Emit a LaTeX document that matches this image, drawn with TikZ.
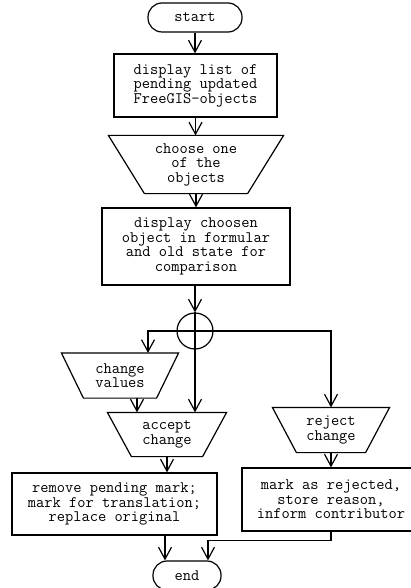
\documentclass[tikz,border=0pt]{standalone}
\usepackage{fontspec}
\usetikzlibrary{arrows.meta}
\begin{document}
\begin{tikzpicture}[x=1pt,y=-1pt,line width=1.2pt,
  txt/.style={font=\ttfamily\fontsize{16}{14.5}\selectfont, align=center, inner sep=0pt},
  procbox/.style={txt, draw, rectangle},
  term/.style={txt, draw, rounded corners=14pt},
  arr/.style={-{Straight Barb[length=12pt,width=13pt]}}]
\useasboundingbox (0,0) rectangle (411,588);
\newcommand\trapz[2]{\draw (#1.north west) -- (#1.north east) -- ([xshift=-#2pt]#1.south east) -- ([xshift=#2pt]#1.south west) -- cycle;}
% nodes
\node[term, minimum width=94pt, minimum height=29pt] (st) at (195,17.5) {start};
\node[procbox, minimum width=163pt, minimum height=63pt] (b1) at (195.5,85.5) {display list of\\pending updated\\FreeGIS-objects};
\node[txt, minimum width=174pt, minimum height=57pt] (ch) at (196,164.5) {choose one\\of the\\objects};
\trapz{ch}{36}
\node[procbox, minimum width=188pt, minimum height=77pt] (b2) at (196,246.5) {display choosen\\object in formular\\and old state for\\comparison};
\node[draw, circle, minimum size=36pt, inner sep=0pt] (j) at (195,331) {};
\node[txt, minimum width=116pt, minimum height=44pt] (cv) at (120,375.5) {change\\values};
\trapz{cv}{22}
\node[txt, minimum width=118pt, minimum height=43pt] (acc) at (167,434.5) {accept\\change};
\trapz{acc}{24}
\node[txt, minimum width=116pt, minimum height=44pt] (rej) at (331,430) {reject\\change};
\trapz{rej}{24}
\node[procbox, minimum width=205pt, minimum height=62pt] (rem) at (114.5,504) {remove pending mark;\\mark for translation;\\replace original};
\node[procbox, minimum width=178pt, minimum height=63pt] (mk) at (331,499.5) {mark as rejected,\\store reason,\\inform contributor};
\node[term, minimum width=68pt, minimum height=29pt] (en) at (187,575.5) {end};
% connectors
\draw[arr] (st.south) -- (st.south |- b1.north);
\draw[arr] (b1.south) -- (b1.south |- ch.north);
\draw[arr] (ch.south) -- (ch.south |- b2.north);
\draw[arr] (b2.south -| j.north) -- (j.north);
\draw (j.west) -- (j.east);
\draw[arr] (j.north) -- (j.north |- acc.north);
\draw[arr] (j.west) -| ([xshift=28pt]cv.north);
\draw[arr] (j.east) -| (rej.north);
\draw[arr] ([xshift=17pt]cv.south) -- ([xshift=17pt]cv.south |- acc.north);
\draw[arr] (acc.south) -- (acc.south |- rem.north);
\draw[arr] (rej.south) -- (rej.south |- mk.north);
\draw[arr] ([xshift=50.5pt]rem.south) -- ([xshift=50.5pt]rem.south |- en.north);
\draw[arr] (mk.south) -- ++(0,9) -| ([xshift=21pt]en.north);
\end{tikzpicture}
\end{document}
